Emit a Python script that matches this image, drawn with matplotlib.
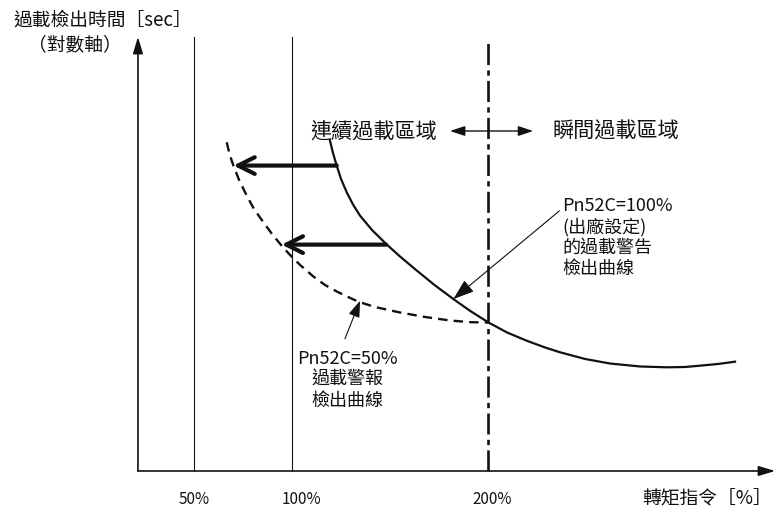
import matplotlib
matplotlib.use("Agg")
import matplotlib.pyplot as plt

plt.rcParams['font.family'] = ['Noto Sans CJK TC', 'DejaVu Sans']

# torque command [%] on x, schematic log-time units on y (0 = x axis, 100 = top of y axis)
torque_ticks = [50, 100, 200]
tick_labels = ['50%', '100%', '200%']
tick_label_pos = [50, 105, 202]

# Pn52C = 100% (factory setting) overload warning curve
curve100_x = [119.4, 120.9, 122.8, 125.0, 127.9, 131.1, 134.7, 140.8, 148.3, 155.1, 163.6, 173.0,
              182.3, 190.8, 200.2, 209.7, 219.7, 229.1, 236.7, 249.5, 262.2, 277.6, 291.2, 300.5,
              308.2, 317.3, 326.0]
curve100_y = [76.39, 73.61, 70.67, 67.59, 64.51, 61.69, 59.10, 55.79, 52.43, 49.65, 46.41, 42.94,
              39.81, 37.08, 34.38, 32.06, 30.16, 28.59, 27.48, 25.93, 24.88, 24.19, 24.00, 24.07,
              24.38, 24.77, 25.30]

# Pn52C = 50% overload alarm curve
curve50_x = [66.7, 68.1, 70.1, 73.0, 76.9, 80.6, 85.4, 89.8, 94.7, 99.0, 104.1, 110.9, 116.8,
             122.8, 128.6, 133.8, 142.3, 155.1, 167.9, 180.6, 190.8, 200.2]
curve50_y = [76.09, 73.38, 70.67, 67.36, 63.73, 60.65, 57.57, 54.86, 52.15, 50.00, 47.69, 45.02,
             43.06, 41.55, 40.28, 39.19, 37.96, 36.69, 35.65, 34.84, 34.45, 34.38]

# shift arrows (from 100% curve to 50% curve)
shift_y = [70.7, 52.4]
shift_from = [122.8, 148.0]
shift_to = [70.1, 94.7]

x_origin, x_end = 21.4, 346.5
y_top = 100.5

fig = plt.figure(figsize=(7.76, 5.10), dpi=100)
ax = fig.add_axes([0, 0, 1, 1])
ax.set_xlim(-48.98, 346.9)
ax.set_ylim(-8.80, 109.26)
ax.axis('off')

k = '#111111'

# axes with arrow heads
ax.annotate('', xy=(x_end, 0), xytext=(x_origin, 0),
            arrowprops=dict(arrowstyle='-|>,head_length=1.0,head_width=0.3', lw=1.2, color=k,
                            shrinkA=0, shrinkB=0))
ax.annotate('', xy=(x_origin, y_top), xytext=(x_origin, 0),
            arrowprops=dict(arrowstyle='-|>,head_length=1.0,head_width=0.3', lw=1.2, color=k,
                            shrinkA=0, shrinkB=0))

# reference lines
for t in torque_ticks[:2]:
    ax.plot([t, t], [0, y_top], color=k, lw=0.8)
ax.plot([200, 200], [0, 100], color=k, lw=1.9, dashes=(8, 2, 2, 2))

# curves
ax.plot(curve100_x, curve100_y, color=k, lw=1.6, solid_joinstyle='round')
ax.plot(curve50_x, curve50_y, color=k, lw=1.7, dashes=(4, 2.6))

# shift arrows
for yy, x0, x1 in zip(shift_y, shift_from, shift_to):
    ax.annotate('', xy=(x1, yy), xytext=(x0, yy),
                arrowprops=dict(arrowstyle='->,head_length=1.2,head_width=0.6', lw=3, color=k,
                                shrinkA=0, shrinkB=0))

# region labels and double arrow
ax.annotate('', xy=(180.6, 78.7), xytext=(223.0, 78.7),
            arrowprops=dict(arrowstyle='<|-|>,head_length=0.9,head_width=0.3', lw=1.0, color=k,
                            shrinkA=0, shrinkB=0))
ax.text(174, 78.7, '連續過載區域', fontsize=15.2, ha='right', va='center', color=k)
ax.text(232.7, 78.7, '瞬間過載區域', fontsize=15.2, ha='left', va='center', color=k)

# callouts
ax.annotate('Pn52C=100%\n(出廠設定)\n的過載警告\n檢出曲線', xy=(182.3, 39.8), xytext=(237.8, 54.3),
            fontsize=13, ha='left', va='center', linespacing=1.2, color=k,
            arrowprops=dict(arrowstyle='-|>,head_length=1.0,head_width=0.35', lw=0.8, color=k,
                            shrinkA=0, shrinkB=0, relpos=(-0.02, 0.82)))
ax.annotate('', xy=(134.7, 39.4), xytext=(127.0, 30.6),
            arrowprops=dict(arrowstyle='-|>,head_length=1.0,head_width=0.35', lw=0.8, color=k,
                            shrinkA=0, shrinkB=0))
ax.text(128.1, 21.3, 'Pn52C=50%\n過載警報\n檢出曲線', fontsize=13, ha='center', va='center',
        multialignment='center', linespacing=1.2, color=k)

# axis titles and tick labels
ax.text(-42.2, 104.6, '過載檢出時間［sec］', fontsize=13.5, ha='left', va='center', color=k)
ax.text(-10.7, 98.8, '（對數軸）', fontsize=13.5, ha='center', va='center', color=k)
for pos, lab in zip(tick_label_pos, tick_labels):
    ax.text(pos, -6.4, lab, fontsize=11, ha='center', va='center', color=k)
ax.text(345, -6.2, '轉矩指令［%］', fontsize=13.5, ha='right', va='center', color=k)

fig.savefig('out.png', dpi=100)
